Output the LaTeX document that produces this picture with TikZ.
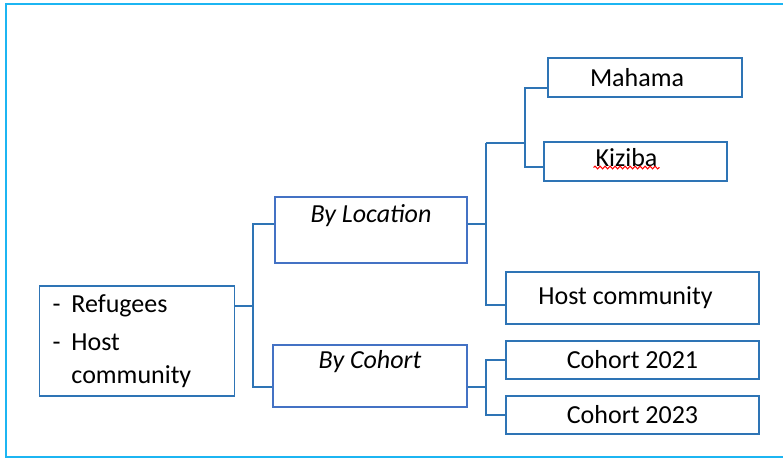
\documentclass[tikz,border=0pt]{standalone}
\usepackage{fontspec}
\setmainfont{Carlito}
\usetikzlibrary{decorations.pathmorphing}
\definecolor{boxblue}{HTML}{2E74B5}
\definecolor{groupblue}{HTML}{4472C4}
\definecolor{framecyan}{HTML}{1CB5F2}
\begin{document}
\begin{tikzpicture}[x=1pt, y=-1pt,
  leafbox/.style={draw=boxblue, line width=1.6pt, inner sep=0pt, font=\fontsize{26}{33}\selectfont},
  groupbox/.style={draw=groupblue, line width=1.4pt, inner sep=0pt, align=center, font=\fontsize{26}{33}\selectfont\itshape},
  link/.style={draw=boxblue, line width=1.6pt}]
\useasboundingbox (0,0) rectangle (783,459);
\draw[framecyan, line width=2.4pt] (800,4) -| (6,457) -- (800,457);

\node[leafbox, minimum width=195pt, minimum height=110pt, text width=169pt, align=left] (root) at (137,341)
  {\begin{tabular}{@{}l@{\hspace{11pt}}l@{}}- & Refugees\\[5pt] - & Host\\ & community\end{tabular}};
\node[groupbox, minimum width=192pt, minimum height=66pt] (location) at (371,230) {By Location\\ ~};
\node[groupbox, minimum width=194pt, minimum height=62pt] (cohort) at (370,376) {By Cohort\\ ~};
\node[leafbox, minimum width=194pt, minimum height=39pt] (mahama) at (645,77.5) {Mahama\hspace*{16pt}};
\node[leafbox, minimum width=183pt, minimum height=39pt] (kiziba) at (635.5,161.5) {\raisebox{8pt}{Kiziba}\hspace*{18pt}};
\node[leafbox, minimum width=253pt, minimum height=52pt] (host) at (632.5,298) {Host community\hspace*{14pt}};
\node[leafbox, minimum width=253pt, minimum height=38pt] (cohortA) at (632.5,360) {Cohort 2021};
\node[leafbox, minimum width=253pt, minimum height=38pt] (cohortB) at (632.5,415) {Cohort 2023};

% spelling mark under Kiziba
\draw[red, line width=1pt, decorate, decoration={snake, amplitude=1.4pt, segment length=5pt}]
  ([xshift=-42pt, yshift=-6pt]kiziba.center) -- ([xshift=24pt, yshift=-6pt]kiziba.center);

% root branches
\coordinate (rootbus) at (253,306);
\draw[link] (root.east |- rootbus) -- (rootbus);
\draw[link] (location.west |- 0,224) -| (rootbus) |- (cohort.west |- 0,387);

% location branches
\coordinate (locbus) at (486,224);
\coordinate (campbus) at (525,143);
\draw[link] (location.east |- locbus) -- (locbus);
\draw[link] (campbus -| locbus) -- (locbus) |- (host.west |- 0,305);
\draw[link] (campbus -| locbus) -- (campbus);
\draw[boxblue, line width=2.6pt] ([xshift=-18pt]campbus) -- (campbus);
\draw[link] (mahama.west |- 0,88) -| (campbus) |- (kiziba.west |- 0,167);

% cohort branches
\coordinate (cohortbus) at (486,387);
\draw[link] (cohort.east |- cohortbus) -- (cohortbus);
\draw[link] (cohortA.west) -| (cohortbus) |- (cohortB.west);
\end{tikzpicture}
\end{document}
